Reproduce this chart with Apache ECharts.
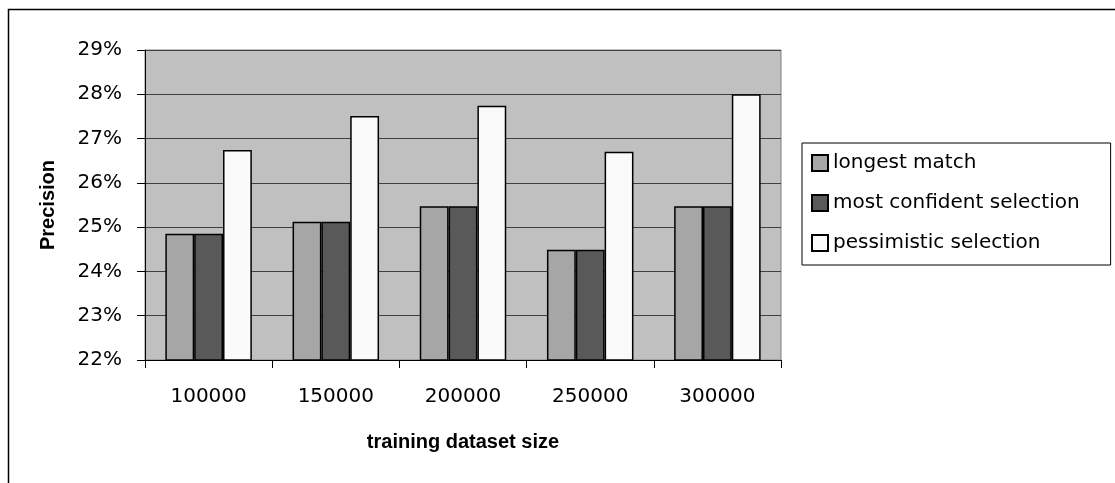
<!DOCTYPE html>
<html>
<head>
<meta charset="utf-8">
<script src="https://cdn.jsdelivr.net/npm/echarts@6/dist/echarts.min.js"></script>
<style>html,body{margin:0;padding:0;background:#fff}#c{width:1115px;height:483px}</style>
</head>
<body>
<div id="c"></div>
<script>
const categories = ['100000', '150000', '200000', '250000', '300000'];
const longestMatch = [24.85, 25.12, 25.47, 24.49, 25.47];
const mostConfident = [24.85, 25.12, 25.47, 24.49, 25.47];
const pessimistic = [26.74, 27.51, 27.74, 26.70, 28.0];
const seriesNames = ['longest match', 'most confident selection', 'pessimistic selection'];
const seriesColors = ['#A6A6A6', '#595959', '#FAFAFA'];

const chart = echarts.init(document.getElementById('c'));
const font = '"DejaVu Sans", Verdana, sans-serif';
const boldFont = '"Liberation Sans", Arial, sans-serif';
const values = [longestMatch, mostConfident, pessimistic];
chart.setOption({
  animation: false,
  backgroundColor: '#fff',
  textStyle: { fontFamily: font },
  graphic: [{
    type: 'rect', left: 6, top: 7, shape: { width: 1200, height: 600 },
    style: { fill: 'none', stroke: '#000', lineWidth: 1.5 }, silent: true, z: -1
  }],
  grid: {
    left: 145, right: 334, top: 50, bottom: 123,
    show: true, backgroundColor: '#C0C0C0', borderColor: '#808080', borderWidth: 1
  },
  legend: {
    orient: 'vertical', left: 802, top: 143,
    itemWidth: 16, itemHeight: 16, itemGap: 16,
    padding: [8, 31, 10, 9],
    borderColor: '#000', borderWidth: 1, backgroundColor: '#fff',
    icon: 'rect',
    textStyle: { fontSize: 20, fontFamily: font, color: '#000', lineHeight: 24 },
    data: seriesNames
  },
  xAxis: {
    type: 'category', data: categories,
    name: 'training dataset size', nameLocation: 'middle', nameGap: 72,
    nameTextStyle: { fontSize: 20, fontWeight: 'bold', color: '#000', fontFamily: boldFont },
    axisLine: { lineStyle: { color: '#000', width: 1 } },
    axisTick: { show: true, length: 8, lineStyle: { color: '#000' } },
    axisLabel: { fontSize: 20, color: '#000', margin: 27, fontFamily: font },
    splitLine: { show: false }
  },
  yAxis: {
    type: 'value', min: 22, max: 29, interval: 1,
    name: 'Precision', nameLocation: 'middle', nameGap: 87,
    nameTextStyle: { fontSize: 20, fontWeight: 'bold', color: '#000', fontFamily: boldFont },
    axisLine: { show: true, lineStyle: { color: '#000', width: 1 } },
    axisTick: { show: true, length: 8, lineStyle: { color: '#000' } },
    axisLabel: { fontSize: 20, color: '#000', margin: 23, formatter: '{value}%', fontFamily: font },
    splitLine: { show: true, lineStyle: { color: '#404040', width: 1 } }
  },
  series: seriesNames.map((n, i) => ({
    name: n, type: 'bar', data: values[i],
    barGap: '0%', barCategoryGap: '32%',
    itemStyle: { color: seriesColors[i], borderColor: '#000', borderWidth: 1.5 }
  }))
});
</script>
</body>
</html>
